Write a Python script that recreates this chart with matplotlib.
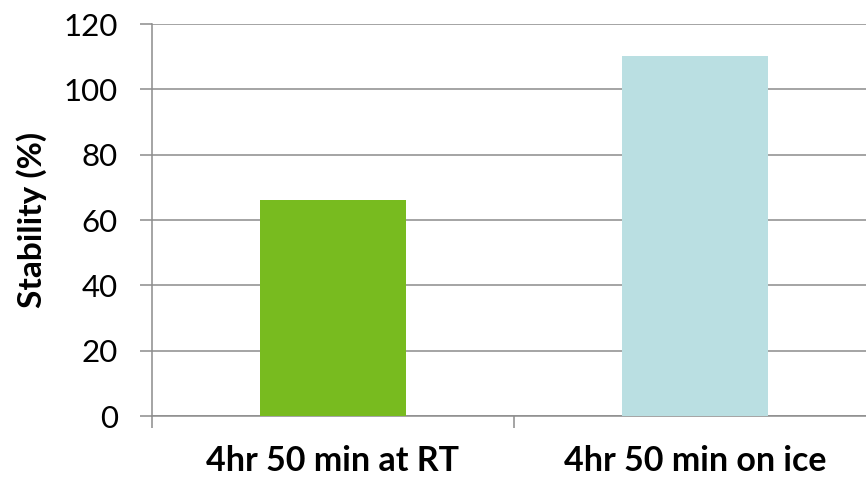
import matplotlib
matplotlib.use("Agg")
import matplotlib.pyplot as plt
from matplotlib.ticker import FixedLocator

categories = ["4hr 50 min at RT", "4hr 50 min on ice"]
stability = [66.1, 110.3]
bar_colors = ["#78BB1F", "#BADFE2"]
y_ticks = [0, 20, 40, 60, 80, 100, 120]

plt.rcParams["font.family"] = ["Lato", "DejaVu Sans"]

W, H = 866, 479
fig = plt.figure(figsize=(W / 100, H / 100), dpi=100)
ax = fig.add_axes([152 / W, 1 - 416 / H, 724 / W, (416 - 24) / H])

grid_color = "#8C8C8C"
x = list(range(len(categories)))
ax.bar(x, stability, width=0.405, color=bar_colors, zorder=3)

ax.set_xlim(-0.5, 1.5)
ax.set_ylim(0, 120)
ax.set_yticks(y_ticks)
ax.set_yticklabels([str(t) for t in y_ticks], fontsize=22.5)
ax.yaxis.grid(True, color=grid_color, linewidth=1.1, zorder=0)
ax.set_axisbelow(True)

# category boundaries carry the tick marks, labels sit at the centres
ax.xaxis.set_major_locator(FixedLocator([-0.5, 0.5, 1.5]))
ax.xaxis.set_major_formatter(plt.NullFormatter())
ax.xaxis.set_minor_locator(FixedLocator(x))
ax.set_xticklabels(categories, minor=True, fontsize=24.5, fontweight="bold")
ax.tick_params(axis="x", which="minor", length=0, pad=21)
ax.tick_params(axis="x", which="major", length=8.6, width=1.1, color=grid_color)
ax.tick_params(axis="y", length=8.6, width=1.1, color=grid_color, pad=16)

for side in ("top", "right"):
    ax.spines[side].set_visible(False)
for side in ("left", "bottom"):
    ax.spines[side].set_color(grid_color)
    ax.spines[side].set_linewidth(1.1)

ax.set_ylabel("Stability (%)", fontsize=24, fontweight="bold", labelpad=12)

fig.savefig("out.png", dpi=100)
